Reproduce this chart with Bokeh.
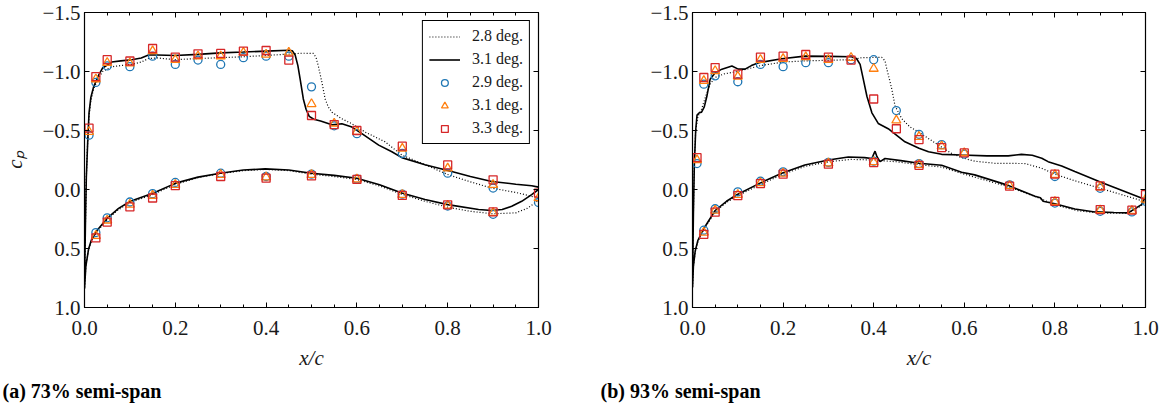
from bokeh.plotting import figure
from bokeh.layouts import row
from bokeh.models import (Range1d, FixedTicker, LinearAxis, Legend, LegendItem,
                          Title, CustomJSTickFormatter)
from bokeh.embed import file_html
from bokeh.resources import INLINE

FONT = "Liberation Serif"

# ---------------- tick labels ----------------
x_ticks = [0.0, 0.2, 0.4, 0.6, 0.8, 1.0]
x_minor = [0.05, 0.1, 0.15, 0.25, 0.3, 0.35, 0.45, 0.5, 0.55, 0.65, 0.7, 0.75, 0.85, 0.9, 0.95]
y_ticks = [-1.5, -1.0, -0.5, 0.0, 0.5, 1.0]

# ================= (a) 73% semi-span =================
# CFD 2.8 deg (dotted)
a28_up_x = [0.0, 0.002, 0.004, 0.007, 0.010, 0.014, 0.020, 0.030, 0.040, 0.060, 0.080, 0.104, 0.125, 0.141,
            0.16, 0.2, 0.25, 0.3, 0.35, 0.4, 0.45, 0.48, 0.504, 0.51, 0.515, 0.523, 0.53, 0.537, 0.545,
            0.567, 0.589, 0.618, 0.662, 0.699, 0.75, 0.802, 0.85, 0.897, 0.95, 0.985, 1.0]
a28_up_cp = [0.84, 0.3, -0.1, -0.4, -0.62, -0.75, -0.85, -0.94, -1.0, -1.04, -1.05, -1.06, -1.08, -1.11,
             -1.115, -1.10, -1.11, -1.117, -1.125, -1.136, -1.148, -1.155, -1.153, -1.12, -1.047, -0.907,
             -0.767, -0.70, -0.655, -0.599, -0.557, -0.487, -0.404, -0.292, -0.21, -0.124, -0.065, -0.012,
             0.025, 0.058, 0.07]
a28_lo_x = [0.0, 0.003, 0.009, 0.015, 0.027, 0.051, 0.075, 0.101, 0.152, 0.201, 0.25, 0.299, 0.35, 0.398,
            0.45, 0.5, 0.55, 0.6, 0.65, 0.699, 0.75, 0.8, 0.85, 0.9, 0.95, 0.975, 0.99, 1.0]
a28_lo_cp = [0.84, 0.65, 0.51, 0.44, 0.36, 0.25, 0.17, 0.11, 0.04, -0.045, -0.1, -0.135, -0.16, -0.17,
             -0.16, -0.13, -0.11, -0.085, -0.03, 0.04, 0.1, 0.15, 0.185, 0.206, 0.198, 0.16, 0.12, 0.09]
# CFD 3.1 deg (solid)
a31_up_x = [0.0, 0.002, 0.004, 0.007, 0.010, 0.014, 0.020, 0.030, 0.040, 0.060, 0.080, 0.104, 0.125, 0.141,
            0.16, 0.2, 0.25, 0.3, 0.35, 0.4, 0.45, 0.458, 0.464, 0.470, 0.475, 0.482, 0.488, 0.495, 0.505,
            0.52, 0.545, 0.567, 0.589, 0.611, 0.648, 0.677, 0.699, 0.75, 0.809, 0.85, 0.897, 0.95, 0.985, 1.0]
a31_up_cp = [0.84, 0.3, -0.1, -0.4, -0.65, -0.78, -0.87, -0.96, -1.03, -1.08, -1.09, -1.10, -1.115, -1.14,
             -1.14, -1.136, -1.145, -1.158, -1.165, -1.173, -1.18, -1.175, -1.14, -1.05, -0.935, -0.767,
             -0.68, -0.62, -0.595, -0.58, -0.548, -0.557, -0.529, -0.473, -0.376, -0.32, -0.27, -0.21,
             -0.152, -0.11, -0.068, -0.045, -0.032, -0.02]
a31_lo_x = [0.0, 0.003, 0.009, 0.015, 0.027, 0.051, 0.075, 0.101, 0.152, 0.201, 0.25, 0.299, 0.35, 0.398,
            0.45, 0.5, 0.55, 0.6, 0.65, 0.699, 0.75, 0.8, 0.868, 0.897, 0.92, 0.941, 0.963, 0.985, 1.0]
a31_lo_cp = [0.84, 0.65, 0.505, 0.43, 0.35, 0.24, 0.16, 0.10, 0.03, -0.054, -0.105, -0.138, -0.165, -0.175,
             -0.165, -0.138, -0.12, -0.096, -0.04, 0.03, 0.085, 0.128, 0.17, 0.178, 0.17, 0.142, 0.10,
             0.044, 0.0]
# experiment
a_up_x = [0.01, 0.025, 0.05, 0.1, 0.15, 0.2, 0.25, 0.3, 0.35, 0.4, 0.45, 0.5, 0.55, 0.6, 0.7, 0.8, 0.9, 1.0]
a_lo_x = [0.025, 0.05, 0.1, 0.15, 0.2, 0.3, 0.4, 0.5, 0.6, 0.7, 0.8, 0.9]
a29_up = [-0.46, -0.907, -1.047, -1.041, -1.13, -1.06, -1.097, -1.06, -1.117, -1.13, -1.13, -0.87, -0.54,
          -0.473, -0.305, -0.138, -0.012, 0.11]
a31e_up = [-0.49, -0.935, -1.075, -1.069, -1.173, -1.10, -1.13, -1.13, -1.16, -1.144, -1.16, -0.725, -0.56,
           -0.49, -0.347, -0.18, -0.04, 0.072]
a33_up = [-0.52, -0.957, -1.10, -1.089, -1.195, -1.122, -1.15, -1.153, -1.173, -1.178, -1.097, -0.627,
          -0.55, -0.50, -0.367, -0.208, -0.082, 0.03]
a29_lo = [0.365, 0.24, 0.106, 0.035, -0.06, -0.138, -0.11, -0.13, -0.09, 0.04, 0.14, 0.21]
a31e_lo = [0.393, 0.262, 0.128, 0.052, -0.04, -0.124, -0.104, -0.124, -0.087, 0.044, 0.136, 0.198]
a33_lo = [0.41, 0.276, 0.148, 0.072, -0.032, -0.11, -0.096, -0.115, -0.085, 0.05, 0.13, 0.19]

# ================= (b) 93% semi-span =================
b28_up_x = [0.0, 0.002, 0.004, 0.007, 0.012, 0.02, 0.03, 0.04, 0.05, 0.07, 0.1, 0.13, 0.15, 0.2, 0.25, 0.3,
            0.35, 0.374, 0.418, 0.425, 0.429, 0.435, 0.44, 0.447, 0.462, 0.48, 0.499, 0.543, 0.57, 0.594,
            0.623, 0.668, 0.734, 0.771, 0.8, 0.844, 0.918, 0.991, 1.0]
b28_up_cp = [0.83, 0.2, -0.2, -0.5, -0.62, -0.68, -0.8, -0.9, -0.95, -0.98, -1.0, -1.03, -1.05, -1.08,
             -1.09, -1.095, -1.10, -1.117, -1.12, -1.09, -1.02, -0.93, -0.85, -0.71, -0.6, -0.53, -0.487,
             -0.376, -0.31, -0.27, -0.24, -0.222, -0.22, -0.18, -0.13, -0.074, 0.01, 0.094, 0.1]
b28_lo_x = [0.0, 0.002, 0.006, 0.012, 0.024, 0.05, 0.075, 0.098, 0.149, 0.197, 0.248, 0.3, 0.35, 0.4, 0.45,
            0.5, 0.55, 0.6, 0.7, 0.77, 0.8, 0.85, 0.9, 0.96, 0.99, 1.0]
b28_lo_cp = [0.83, 0.65, 0.53, 0.44, 0.345, 0.19, 0.11, 0.055, -0.04, -0.125, -0.195, -0.235, -0.255, -0.25,
             -0.235, -0.21, -0.19, -0.13, -0.02, 0.08, 0.13, 0.18, 0.2, 0.2, 0.14, 0.1]
b31_up_x = [0.0, 0.002, 0.004, 0.007, 0.010, 0.015, 0.020, 0.026, 0.032, 0.039, 0.05, 0.065, 0.087, 0.101,
            0.116, 0.13, 0.146, 0.197, 0.248, 0.3, 0.351, 0.362, 0.37, 0.377, 0.385, 0.396, 0.41, 0.432,
            0.469, 0.5, 0.521, 0.55, 0.594, 0.65, 0.697, 0.726, 0.75, 0.771, 0.785, 0.815, 0.844, 0.903,
            0.95, 0.991, 1.0]
b31_up_cp = [0.83, 0.2, -0.2, -0.5, -0.63, -0.65, -0.655, -0.70, -0.795, -0.935, -0.99, -1.02, -1.047,
             -1.02, -1.02, -1.05, -1.075, -1.108, -1.13, -1.128, -1.125, -1.11, -1.06, -0.935, -0.79, -0.65,
             -0.56, -0.515, -0.404, -0.35, -0.32, -0.298, -0.292, -0.285, -0.285, -0.298, -0.29, -0.265,
             -0.236, -0.2, -0.152, -0.06, 0.01, 0.072, 0.08]
b31_lo_x = [0.0, 0.002, 0.006, 0.012, 0.024, 0.05, 0.075, 0.098, 0.149, 0.197, 0.248, 0.3, 0.344, 0.38,
            0.396, 0.400, 0.403, 0.407, 0.414, 0.425, 0.46, 0.5, 0.55, 0.594, 0.623, 0.697, 0.756, 0.768,
            0.774, 0.8, 0.844, 0.888, 0.93, 0.962, 0.991, 1.0]
b31_lo_cp = [0.83, 0.65, 0.52, 0.43, 0.337, 0.178, 0.1, 0.044, -0.054, -0.138, -0.208, -0.25, -0.275,
             -0.27, -0.263, -0.30, -0.325, -0.28, -0.236, -0.263, -0.245, -0.222, -0.205, -0.146, -0.124,
             -0.035, 0.058, 0.07, 0.1, 0.12, 0.165, 0.19, 0.195, 0.198, 0.128, 0.06]
b_up_x = [0.01, 0.025, 0.05, 0.1, 0.15, 0.2, 0.25, 0.3, 0.35, 0.4, 0.45, 0.5, 0.55, 0.6, 0.8, 0.9, 1.0]
b_lo_x = [0.025, 0.05, 0.1, 0.15, 0.2, 0.3, 0.4, 0.5, 0.7, 0.8, 0.9, 0.97]
b29_up = [-0.22, -0.893, -0.963, -0.913, -1.06, -1.041, -1.075, -1.075, -1.10, -1.10, -0.669, -0.468,
          -0.38, -0.30, -0.11, -0.01, 0.10]
b31e_up = [-0.25, -0.921, -1.005, -0.957, -1.10, -1.108, -1.122, -1.10, -1.117, -1.024, -0.586, -0.446,
           -0.367, -0.31, -0.124, -0.02, 0.085]
b33_up = [-0.27, -0.949, -1.033, -0.977, -1.122, -1.13, -1.144, -1.122, -1.097, -0.767, -0.515, -0.423,
          -0.355, -0.31, -0.13, -0.03, 0.044]
b29_lo = [0.345, 0.163, 0.02, -0.07, -0.15, -0.23, -0.24, -0.22, -0.04, 0.115, 0.185, 0.19]
b31e_lo = [0.365, 0.178, 0.044, -0.055, -0.135, -0.222, -0.232, -0.21, -0.032, 0.105, 0.175, 0.18]
b33_lo = [0.38, 0.192, 0.052, -0.05, -0.13, -0.215, -0.228, -0.205, -0.028, 0.10, 0.17, 0.175]

BLUE, ORANGE, RED = "#1f77b4", "#ff7f0e", "#d62728"

minus_fmt = CustomJSTickFormatter(code="return tick.toFixed(1).replace('-', '\u2212');")
blank_fmt = CustomJSTickFormatter(code="return '';")


def closed(up_x, up_y, lo_x, lo_y):
    return list(reversed(up_x)) + list(lo_x), list(reversed(up_y)) + list(lo_y)


def panel(fw, bl, br, caption, cap_off, d28, d31, ux, lx, e29, e31, e33, ylabel, legend):
    p = figure(frame_width=fw, frame_height=295, output_backend="svg", toolbar_location=None,
               x_range=Range1d(0, 1), y_range=Range1d(1.0, -1.5),
               min_border_left=bl, min_border_right=br, min_border_top=12, min_border_bottom=60)
    p.grid.visible = False
    p.outline_line_color = "black"
    p.outline_line_width = 1.2
    p.outline_line_alpha = 1
    p.background_fill_color = "white"
    p.border_fill_color = "white"

    xt = FixedTicker(ticks=x_ticks, minor_ticks=x_minor)
    yt = FixedTicker(ticks=y_ticks, minor_ticks=[])

    for ax in (p.xaxis[0], p.yaxis[0]):
        ax.major_tick_in = 5
        ax.major_tick_out = 0
        ax.minor_tick_in = 3
        ax.minor_tick_out = 0
        ax.axis_line_color = "black"
        ax.major_tick_line_color = "black"
        ax.minor_tick_line_color = "black"
        ax.major_label_text_font = FONT
        ax.major_label_text_font_size = "21px"
        ax.major_label_text_color = "#1a1a1a"
        ax.axis_label_text_font = FONT
        ax.axis_label_text_font_size = "21px"
        ax.axis_label_text_font_style = "italic"
        ax.axis_label_text_color = "#1a1a1a"
    p.xaxis.ticker = xt
    p.xaxis.formatter = CustomJSTickFormatter(code="return tick.toFixed(1);")
    p.xaxis.major_label_standoff = 13
    p.xaxis.axis_label = "x/c"
    p.xaxis.axis_label_standoff = 8
    p.yaxis.ticker = yt
    p.yaxis.formatter = minus_fmt
    p.yaxis.major_label_standoff = 4
    if ylabel:
        p.yaxis.axis_label = "c\u209a"
        p.yaxis.axis_label_standoff = 12

    # mirrored ticks on top and right
    top = LinearAxis(ticker=xt, formatter=blank_fmt)
    right = LinearAxis(ticker=yt, formatter=blank_fmt)
    for ax in (top, right):
        ax.major_tick_in = 5
        ax.major_tick_out = 0
        ax.minor_tick_in = 3
        ax.minor_tick_out = 0
        ax.major_label_text_font_size = "0px"
        ax.major_label_standoff = 0
        ax.axis_line_color = "black"
    p.add_layout(top, "above")
    p.add_layout(right, "right")

    lx28, ly28 = closed(*d28)
    lx31, ly31 = closed(*d31)
    r28 = p.line(lx28, ly28, line_color="black", line_width=1.2, line_dash="1 2")
    r31 = p.line(lx31, ly31, line_color="black", line_width=1.6)

    xs = list(ux) + list(lx)
    c = p.scatter(xs, list(e29[0]) + list(e29[1]), marker="circle", size=8, fill_color=None,
                  line_color=BLUE, line_width=1.3)
    t = p.scatter(xs, list(e31[0]) + list(e31[1]), marker="triangle", size=9, fill_color=None,
                  line_color=ORANGE, line_width=1.3)
    s = p.scatter(xs, list(e33[0]) + list(e33[1]), marker="square", size=8, fill_color=None,
                  line_color=RED, line_width=1.3)

    if legend:
        lg = Legend(items=[LegendItem(label="2.8 deg.", renderers=[r28]),
                           LegendItem(label="3.1 deg.", renderers=[r31]),
                           LegendItem(label="2.9 deg.", renderers=[c]),
                           LegendItem(label="3.1 deg.", renderers=[t]),
                           LegendItem(label="3.3 deg.", renderers=[s])],
                    location="top_right", margin=8, padding=6, spacing=5,
                    glyph_width=31, glyph_height=17, label_height=17, label_standoff=12,
                    label_text_font=FONT, label_text_font_size="16px", label_text_color="#1a1a1a",
                    border_line_color="black", border_line_width=1.2, border_line_alpha=1,
                    background_fill_color="white", background_fill_alpha=1)
        p.add_layout(lg)

    p.add_layout(Title(text=caption, align="left", offset=cap_off, standoff=10,
                       text_font=FONT, text_font_style="bold", text_font_size="20px",
                       text_color="black"), "below")
    return p


pa = panel(454, 83, 61, "(a) 73% semi-span", -82,
           (a28_up_x, a28_up_cp, a28_lo_x, a28_lo_cp),
           (a31_up_x, a31_up_cp, a31_lo_x, a31_lo_cp),
           a_up_x, a_lo_x, (a29_up, a29_lo), (a31e_up, a31e_lo), (a33_up, a33_lo),
           ylabel=True, legend=True)
pb = panel(453, 93, 20, "(b) 93% semi-span", -92,
           (b28_up_x, b28_up_cp, b28_lo_x, b28_lo_cp),
           (b31_up_x, b31_up_cp, b31_lo_x, b31_lo_cp),
           b_up_x, b_lo_x, (b29_up, b29_lo), (b31e_up, b31e_lo), (b33_up, b33_lo),
           ylabel=False, legend=False)

layout = row(pa, pb)
open("out.html", "w").write(file_html(layout, INLINE))
